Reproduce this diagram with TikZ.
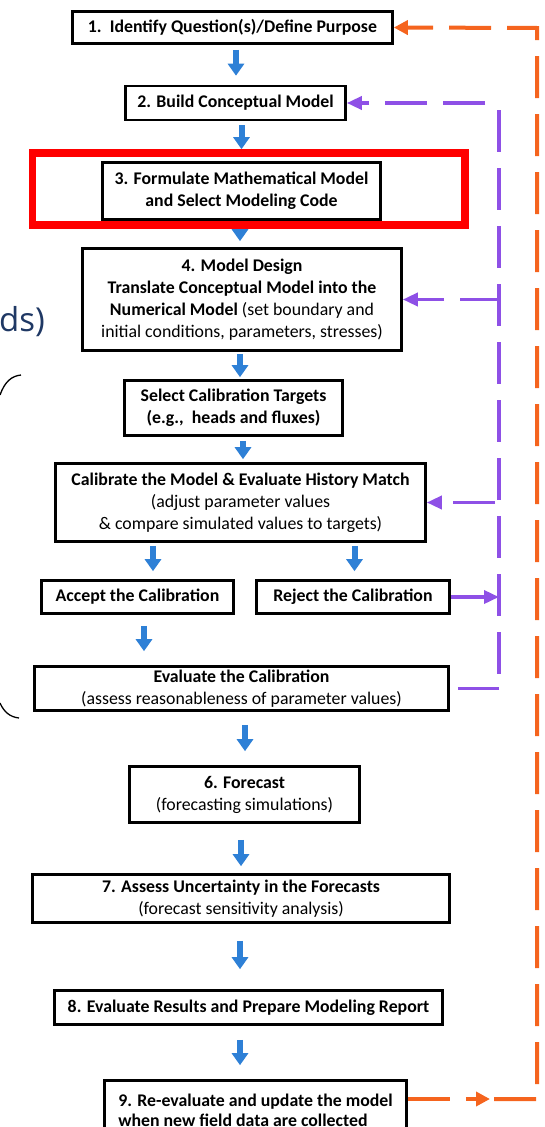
\documentclass[tikz,border=0pt]{standalone}
\usepackage{fontspec}
\setmainfont{Carlito}
\newfontfamily\slidefont{Open Sans}
\usetikzlibrary{arrows.meta}
\definecolor{flowblue}{RGB}{46,128,214}
\definecolor{loopviolet}{RGB}{142,80,230}
\definecolor{looporange}{RGB}{245,100,30}
\definecolor{framered}{RGB}{255,0,0}
\definecolor{titlenavy}{RGB}{31,56,100}
\tikzset{
  stepbox/.style={draw, line width=2.6pt, fill=white, align=center, inner sep=0pt,
    font=\fontsize{17.8}{22}\selectfont},
  flow/.style={draw=flowblue, line width=6pt, -{Triangle[width=16pt,length=12pt]}},
  feedback/.style={draw=loopviolet, line width=3.5pt, dash pattern=on 42pt off 16pt},
  fbtip/.style={-{Triangle[width=13pt,length=15pt]}},
  renew/.style={draw=looporange, line width=4pt, dash pattern=on 42pt off 16pt,
    -{Triangle[width=14pt,length=14pt]}},
}
\begin{document}
\begin{tikzpicture}[x=1pt,y=-1pt]
\useasboundingbox (0,0) rectangle (545,1127);
% steps of the modeling process
\node[stepbox, minimum width=320pt, minimum height=32pt] (purpose) at (232.5,27.5) {\textbf{1.\ \ Identify Question(s)/Define Purpose}};
\node[stepbox, minimum width=220pt, minimum height=34pt] (concept) at (235.5,103) {\textbf{2. Build Conceptual Model}};
\node[stepbox, minimum width=278pt, minimum height=57pt] (mathmodel) at (241.5,191) {\textbf{3. Formulate Mathematical Model}\\\textbf{and Select Modeling Code}};
\node[stepbox, minimum width=319pt, minimum height=102pt] (design) at (242,299.5) {\textbf{4. Model Design}\\\textbf{Translate Conceptual Model into the}\\\textbf{Numerical Model} (set boundary and\\initial conditions, parameters, stresses)};
\node[stepbox, minimum width=218pt, minimum height=55pt] (targets) at (233.5,408) {\textbf{Select Calibration Targets}\\\textbf{(e.g.,\ \ heads and fluxes)}};
\node[stepbox, minimum width=370pt, minimum height=78pt] (calibrate) at (240.5,502.5) {\textbf{Calibrate the Model \& Evaluate History Match}\\(adjust parameter values\\\& compare simulated values to targets)};
\node[stepbox, minimum width=192pt, minimum height=33pt] (accept) at (137.5,597) {\textbf{Accept the Calibration}};
\node[stepbox, minimum width=193pt, minimum height=33pt] (reject) at (353,597) {\textbf{Reject the Calibration}};
\node[stepbox, minimum width=414pt, minimum height=44pt] (evalcal) at (241.5,688.5) {\textbf{Evaluate the Calibration}\\(assess reasonableness of parameter values)};
\node[stepbox, minimum width=230pt, minimum height=56pt] (forecast) at (244.5,794.5) {\textbf{6. Forecast}\\(forecasting simulations)};
\node[stepbox, minimum width=417pt, minimum height=48pt] (uncert) at (241,898.5) {\textbf{7. Assess Uncertainty in the Forecasts}\\(forecast sensitivity analysis)};
\node[stepbox, minimum width=388pt, minimum height=34pt] (report) at (248.5,1007.5) {\textbf{8. Evaluate Results and Prepare Modeling Report}};
\node[stepbox, align=left, minimum width=302pt, minimum height=59pt, font=\fontsize{17.8}{20}\selectfont] (update) at (255.5,1110) {\textbf{9. Re-evaluate and update the model}\\\textbf{when new field data are collected}};
% blue arrows: from/to/xshift/shorten start/shorten end
\foreach \from/\to/\dx/\s/\e in {purpose/concept/0.5/5/9, concept/mathmodel/0/4/12,
  mathmodel/design/-2/1/6, design/targets/6.5/2/2, targets/calibrate/2.5/4/3,
  calibrate/accept/15.5/3/8, calibrate/reject/1.5/3/8, accept/evalcal/-97.5/11/14,
  evalcal/forecast/0.5/13/14, forecast/uncert/0/16/7, uncert/report/-8.5/17/20,
  report/update/-15.5/14/14}
\draw[flow, shorten <=\s pt, shorten >=\e pt] ([xshift=\dx pt]\to.north |- \from.south) -- ([xshift=\dx pt]\to.north);
% violet feedback loop
\coordinate (vtop) at (499,110);
\coordinate (vbot) at (499,690);
\draw[feedback] (vtop) -- (vbot);
\draw[feedback, fbtip, dash phase=44pt] (concept.east -| vtop) -- (concept.east);
\draw[feedback, fbtip, dash phase=3pt] (design.east -| vtop) -- (design.east);
\draw[feedback, fbtip, dash phase=54pt] (calibrate.east -| vtop) -- (calibrate.east);
\draw[draw=loopviolet, line width=3.5pt, fbtip] (reject.east) -- (reject.east -| vtop);
\draw[feedback, dash pattern=on 41pt off 20pt] (evalcal.east -| vtop) -- (evalcal.east);
% orange loop back to step 1
\coordinate (otop) at (537,28);
\coordinate (obot) at (537,1099);
\coordinate (omid) at (490,1099);
\draw[renew] (update.east |- omid) -- (omid);
\draw[renew, dash phase=54pt] (omid) -- (obot) -- (otop) -- (purpose.east);
% highlight and cut-off slide parts
\draw[framered, line width=7.5pt] (32.5,153) rectangle (465,225);
\node[font=\slidefont\fontsize{33}{33}\selectfont, text=titlenavy, anchor=base east, inner sep=0pt] (cut) at (45,331) {ds)};
\draw[line width=1.3pt] (0,395) .. controls (5,381) and (12,376) .. (21,375);
\draw[line width=1.3pt] (0,703) .. controls (4,712) and (10,717) .. (19,718);
\end{tikzpicture}
\end{document}
